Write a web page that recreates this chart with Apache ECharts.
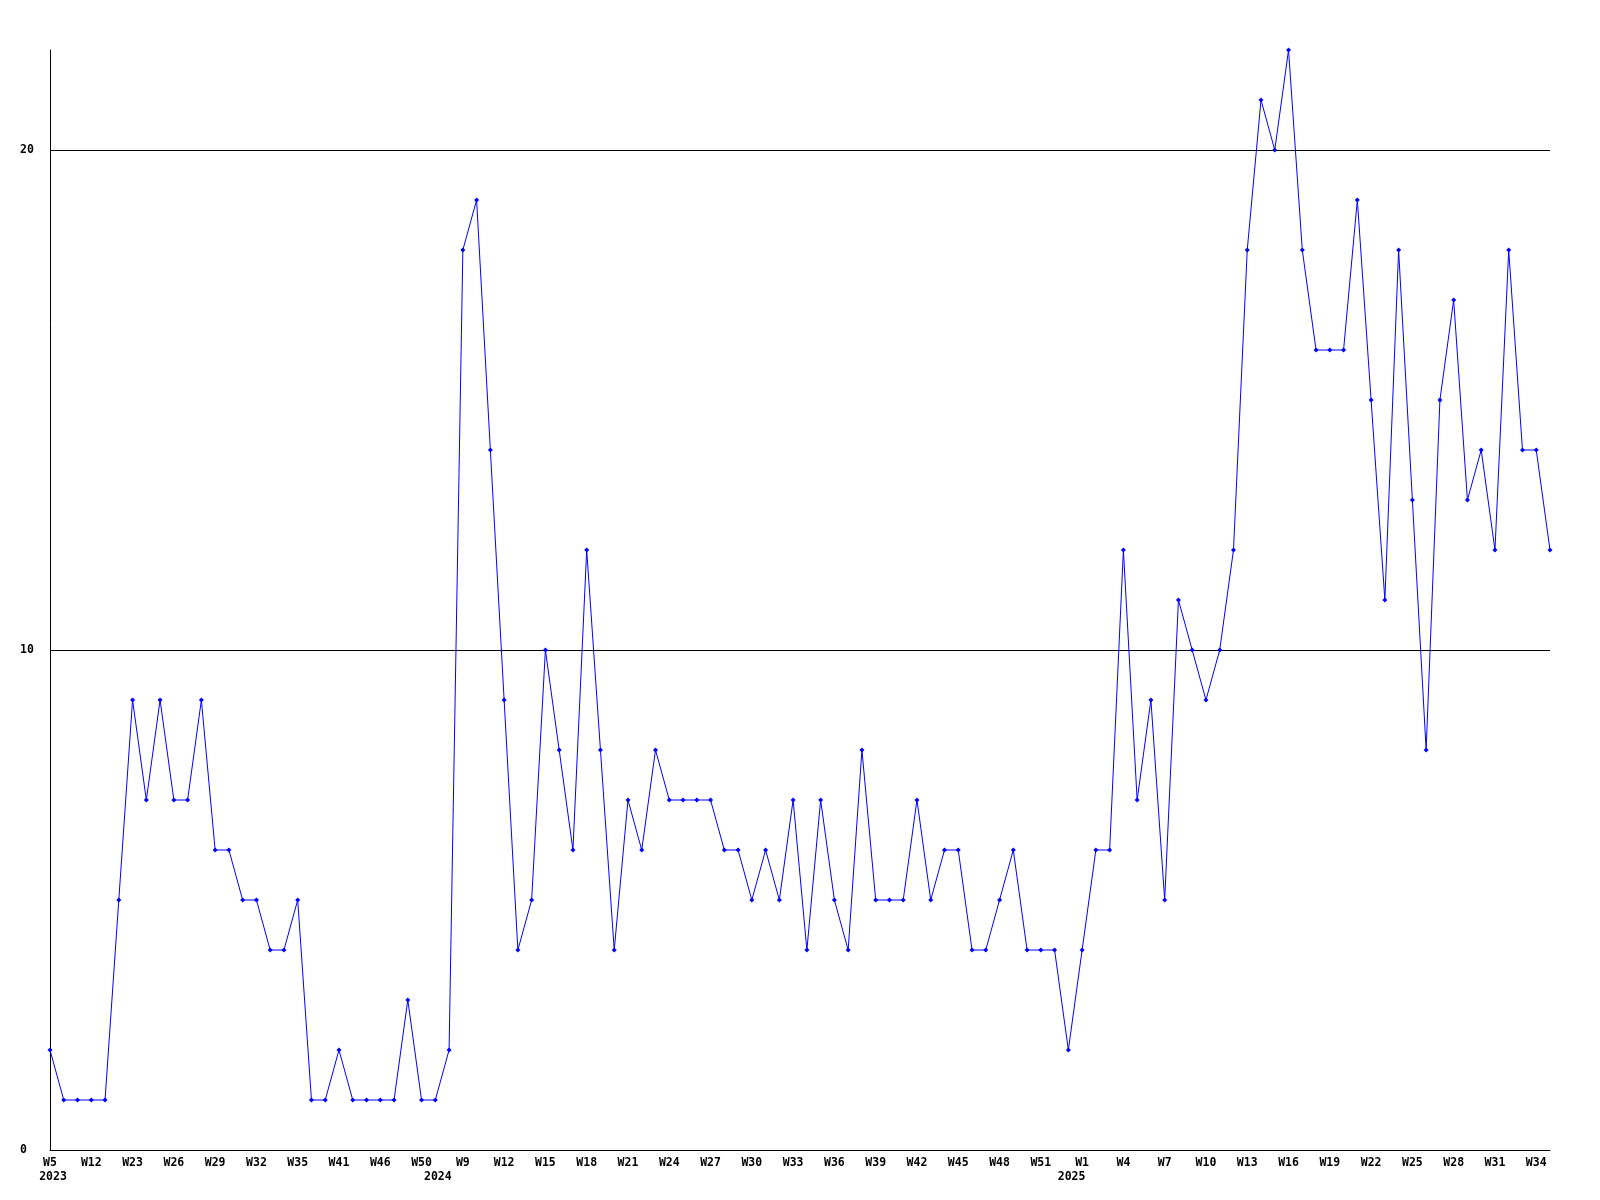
<!DOCTYPE html>
<html>
<head>
<meta charset="utf-8">
<script src="https://cdn.jsdelivr.net/npm/echarts@6/dist/echarts.min.js"></script>
<style>html,body{margin:0;padding:0;background:#fff}#c{width:1600px;height:1200px}</style>
</head>
<body>
<div id="c"></div>
<script>
// Tick labels shown on the x axis (every third data point)
const tickLabels = ['W5','W12','W23','W26','W29','W32','W35','W41','W46','W50','W9','W12','W15','W18','W21','W24','W27','W30','W33','W36','W39','W42','W45','W48','W51','W1','W4','W7','W10','W13','W16','W19','W22','W25','W28','W31','W34'];
const labelStep = 3;
// Year labels and the data index they sit under
const years = ['2023', '2024', '2025'];
const yearIdx = [0, 30, 75];
// Series values, one per data point
const values = [
  2,1,1,1,1,5,9,7,9,7,
  7,9,6,6,5,5,4,4,5,1,
  1,2,1,1,1,1,3,1,1,2,
  18,19,14,9,4,5,10,8,6,12,
  8,4,7,6,8,7,7,7,7,6,
  6,5,6,5,7,4,7,5,4,8,
  5,5,5,7,5,6,6,4,4,5,
  6,4,4,4,2,4,6,6,12,7,
  9,5,11,10,9,10,12,18,21,20,
  22,18,16,16,16,19,15,11,18,13,
  8,15,17,13,14,12,18,14,14,12
];
const yTicks = [0, 10, 20];
const yMax = 22;

const categories = values.map((v, i) => (i % labelStep === 0 && tickLabels[i / labelStep]) ? tickLabels[i / labelStep] : '');
const yearCats = values.map((v, i) => { const k = yearIdx.indexOf(i); return k >= 0 ? years[k] : ''; });
const yearStyle = { '2023': 'a', '2024': 'b', '2025': 'c' };

const font = 'DejaVu Sans Mono';
const chart = echarts.init(document.getElementById('c'), null, { renderer: 'canvas' });
chart.setOption({
  animation: false,
  backgroundColor: '#fff',
  grid: { left: 50, right: 50, top: 50, bottom: 50, containLabel: false },
  xAxis: [{
    type: 'category',
    data: categories,
    boundaryGap: false,
    axisLine: { show: true, lineStyle: { color: '#000', width: 1 } },
    axisTick: { show: false },
    splitLine: { show: false },
    axisLabel: {
      interval: labelStep - 1,
      margin: 6,
      color: '#000',
      fontFamily: font,
      fontWeight: 'bold',
      fontSize: 11.5,
      lineHeight: 14
    }
  }, {
    type: 'category',
    data: yearCats,
    boundaryGap: false,
    position: 'bottom',
    offset: 14,
    axisLine: { show: false },
    axisTick: { show: false },
    splitLine: { show: false },
    axisLabel: {
      interval: 0,
      margin: 6,
      color: '#000',
      fontFamily: font,
      fontWeight: 'bold',
      fontSize: 11.5,
      lineHeight: 14,
      formatter: v => v ? '{' + yearStyle[v] + '|' + v + '}' : '',
      rich: {
        a: { padding: [0, 0, 0, 6], fontFamily: font, fontWeight: 'bold', fontSize: 11.5, color: '#000' },
        b: { padding: [0, 50, 0, 0], fontFamily: font, fontWeight: 'bold', fontSize: 11.5, color: '#000' },
        c: { padding: [0, 21, 0, 0], fontFamily: font, fontWeight: 'bold', fontSize: 11.5, color: '#000' }
      }
    }
  }],
  yAxis: {
    type: 'value',
    min: 0,
    max: yMax,
    interval: 10,
    axisLine: { show: true, lineStyle: { color: '#000', width: 1 } },
    axisTick: { show: false },
    splitLine: { show: true, lineStyle: { color: ['#000', '#000', '#000', 'rgba(0,0,0,0)'], width: 1 } },
    axisLabel: {
      margin: 30,
      align: 'left',
      color: '#000',
      fontFamily: font,
      fontWeight: 'bold',
      fontSize: 11.5,
      formatter: v => yTicks.indexOf(v) >= 0 ? String(v) : ''
    }
  },
  series: [{
    type: 'line',
    data: values,
    xAxisIndex: 0,
    symbol: 'diamond',
    symbolSize: 5,
    showAllSymbol: true,
    lineStyle: { color: '#0000ff', width: 1 },
    itemStyle: { color: '#0000ff' },
    emphasis: { disabled: true },
    z: 3
  }]
});
</script>
</body>
</html>
